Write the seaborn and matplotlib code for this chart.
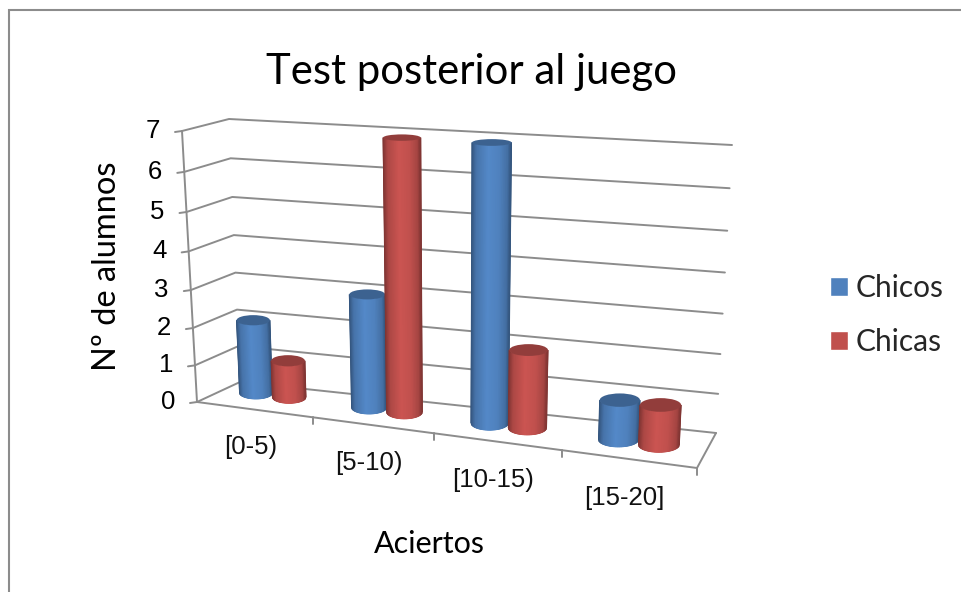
import numpy as np
import pandas as pd
import matplotlib
matplotlib.use('Agg')
import matplotlib.pyplot as plt
import seaborn as sns
from matplotlib.colors import LinearSegmentedColormap, to_rgb
from matplotlib.patches import Ellipse

categorias = ['[0-5)', '[5-10)', '[10-15)', '[15-20]']
chicos = [2, 3, 7, 1]
chicas = [1, 7, 2, 1]
y_ticks = [0, 1, 2, 3, 4, 5, 6, 7]

titulo = 'Test posterior al juego'
eje_x = 'Aciertos'
eje_y = 'Nº de alumnos'

AZUL = '#4F81BD'
ROJO = '#C0504D'
GRIS = '#8c8c8c'

sns.set_theme(style='white')
plt.rcParams['font.family'] = ['Liberation Sans', 'DejaVu Sans']


def ajustar_plano(esquinas):
    # homography from (x, value) to picture pixels, corners: BL, BR, TL, TR
    src = [(-0.5, 0), (3.5, 0), (-0.5, 7), (3.5, 7)]
    A, b = [], []
    for (x, y), (u, v) in zip(src, esquinas):
        A.append([x, y, 1, 0, 0, 0, -u * x, -u * y])
        A.append([0, 0, 0, x, y, 1, -v * x, -v * y])
        b += [u, v]
    h = np.linalg.solve(np.array(A, float), np.array(b, float))
    return np.append(h, 1).reshape(3, 3)


def proyectar(H, x, y):
    x, y = np.asarray(x, float), np.asarray(y, float)
    w = H[2, 0] * x + H[2, 1] * y + H[2, 2]
    return (H[0, 0] * x + H[0, 1] * y + H[0, 2]) / w, (H[1, 0] * x + H[1, 1] * y + H[1, 2]) / w


# the three planes of the fake 3D box, in pixels
FRENTE = ajustar_plano([(197, 402), (697, 468), (182, 131), (717, 171)])
FONDO = ajustar_plano([(240, 382), (716, 433), (229, 119), (732, 145)])
BARRAS = ajustar_plano([(218, 388), (707, 451), (206, 127), (722, 155)])

df = pd.DataFrame({
    'Aciertos': categorias * 2,
    'n': chicos + chicas,
    'Serie': ['Chicos'] * 4 + ['Chicas'] * 4,
})

fig = plt.figure(figsize=(9.61, 5.92), dpi=100)
ax = fig.add_axes([0, 0, 1, 1])
sns.barplot(data=df, x='Aciertos', y='n', hue='Serie', palette=[AZUL, ROJO],
            width=0.6, saturation=1, ax=ax)
ax.set_xlim(-0.5, 3.5)
ax.set_ylim(0, 7)
ax.set_yticks(y_ticks)
ax.axis('off')

sns.move_legend(ax, loc='upper left', bbox_to_anchor=(830 / 961, 1 - 274 / 592), frameon=False,
                title=None, prop={'family': 'Lato', 'size': 21.5}, handlelength=0.6,
                handleheight=0.6, handletextpad=0.27, labelspacing=0.88, borderpad=0, borderaxespad=0)

# pixel layer on top, where the projected box is drawn
capa = fig.add_axes([0, 0, 1, 1])
capa.set_xlim(0, 961)
capa.set_ylim(592, 0)
capa.axis('off')
capa.patch.set_alpha(0)

# outer frame of the chart area
capa.plot([8.5, 8.5, 961], [592, 9.5, 9.5], color=GRIS, lw=1.5, solid_joinstyle='miter')

# walls and grid
for v in ax.get_yticks():
    x0, y0 = proyectar(FRENTE, -0.5, v)
    x1, y1 = proyectar(FONDO, -0.5, v)
    x2, y2 = proyectar(FONDO, 3.5, v)
    capa.plot([x0 - 7, x0, x1, x2], [y0 + 1, y0, y1, y2], color=GRIS, lw=1.4)
    capa.text(x0 - 22, y0, f'{v:g}', ha='right', va='center', fontsize=18.5, color='black')

xs, ys = proyectar(FRENTE, np.array([-0.5, 3.5]), np.array([0, 0]))
capa.plot(xs, ys, color=GRIS, lw=1.4)
xs, ys = proyectar(FRENTE, np.array([-0.5, -0.5]), np.array([0, 7]))
capa.plot(xs, ys, color=GRIS, lw=1.4)
x_f, y_f = proyectar(FRENTE, 3.5, 0)
x_b, y_b = proyectar(FONDO, 3.5, 0)
capa.plot([x_f, x_b], [y_f, y_b], color=GRIS, lw=1.4)

# category ticks and labels along the front edge
for i, cat in enumerate(categorias):
    xt, yt = proyectar(FRENTE, i + 0.5, 0)
    capa.plot([xt, xt], [yt, yt + 7], color=GRIS, lw=1.4)
    xc, yc = proyectar(FRENTE, i, 0)
    capa.text(xc - 4, yc + 37 + i * 0.8, cat, ha='center', va='center', fontsize=18.5, color='#111111')


def cilindro(barra, z):
    x0, ancho, alto = barra.get_x(), barra.get_width(), barra.get_height()
    color = np.array(to_rgb(barra.get_facecolor()))
    oscuro = color * 0.66
    medio = np.minimum(color * 1.06, 1)
    mapa = LinearSegmentedColormap.from_list(
        'c', [(0, oscuro), (0.12, color * 0.9), (0.42, medio), (0.72, color),
              (0.92, color * 0.86), (1, oscuro)])
    u = np.linspace(-1, 1, 61)
    x_dat = x0 + ancho * (u + 1) / 2
    xa, ya = proyectar(BARRAS, x_dat, np.zeros_like(u))
    xb, yb = proyectar(BARRAS, x_dat, np.full_like(u, alto))
    ancho_px = xb[-1] - xb[0]
    b_base = ancho_px * 0.18
    b_top = ancho_px * (0.18 - 0.0135 * alto)
    arco = np.sqrt(1 - u ** 2)
    # caps stay level in the reference, only the centre follows the floor slope
    X = np.vstack([xb, xa])
    Y = np.vstack([yb.mean() + b_top * arco, ya.mean() + b_base * arco])
    C = np.vstack([u, u])
    capa.pcolormesh(X, Y, C, cmap=mapa, shading='gouraud', zorder=z, rasterized=True)
    capa.add_patch(Ellipse(((xb[0] + xb[-1]) / 2, yb.mean()), ancho_px, 2 * b_top,
                           facecolor=color * 0.76, edgecolor='none', zorder=z + 0.1))


for k, barra in enumerate(ax.patches[:8]):
    barra.set_visible(False)
    cilindro(barra, 3 + k % 4 * 2 + k // 4)

capa.text(471.5, 72, titulo, ha='center', va='center', fontsize=30.2, family='Lato', color='black')
capa.text(107, 266, eje_y, ha='center', va='center', rotation=90, fontsize=23.5, family='Lato', color='black')
capa.text(429, 544, eje_x, ha='center', va='center', fontsize=22, family='Lato', color='black')

fig.savefig('out.png', dpi=100)
plt.close(fig)
